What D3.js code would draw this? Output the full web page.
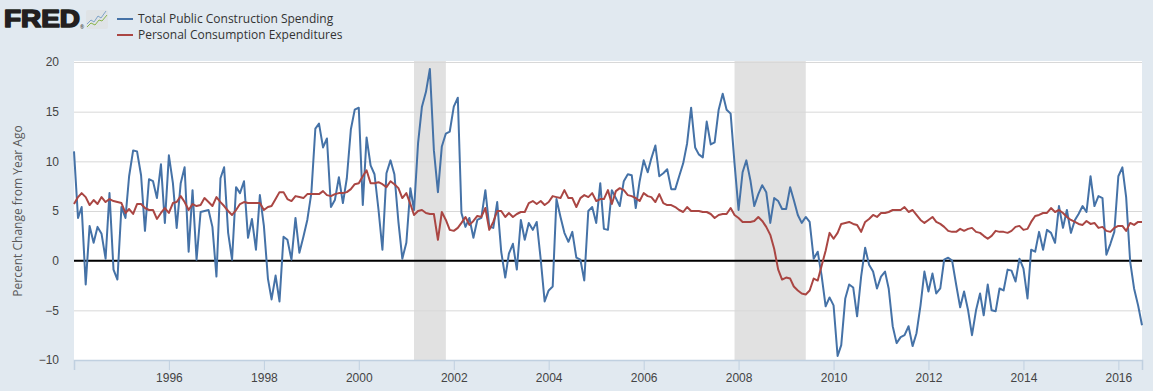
<!DOCTYPE html>
<html>
<head>
<meta charset="utf-8">
<script src="https://cdn.jsdelivr.net/npm/d3@7"></script>
<style>
  body { margin: 0; background: #e1e9f0; }
  svg { display: block; font-family: "Open Sans", sans-serif; }
</style>
</head>
<body>
<div id="chart"></div>
<script>
'use strict';

// Monthly series, Jan 1994 .. Jul 2016 (percent change from year ago)
const startMonth = new Date(1994, 0, 1);

const construction = [
  11.0, 4.3, 5.4, -2.4, 3.5, 1.8, 3.4, 2.7, 0.2, 6.8, -0.9, -1.9,
  5.4, 4.3, 8.5, 11.1, 11.0, 8.6, 3.0, 8.2, 8.0, 6.3, 9.7, 3.8,
  10.6, 7.8, 3.3, 7.8, 9.4, 0.9, 7.1, 0.1, 4.9, 5.0, 5.1, 3.4,
  -1.6, 8.3, 9.4, 2.8, 0.1, 7.4, 6.8, 8.0, 2.3, 4.2, 1.1, 6.6,
  3.5, -1.8, -3.9, -1.5, -4.1, 2.4, 2.1, 0.1, 4.3, 0.8, 2.4, 4.1,
  6.8, 13.3, 13.8, 11.4, 12.3, 5.4, 6.1, 8.4, 5.8, 8.3, 13.2, 15.2,
  15.4, 5.6, 12.4, 9.6, 8.7, 5.1, 1.1, 8.8, 10.1, 8.7, 3.9, 0.2,
  1.8, 7.3, 5.1, 11.8, 15.5, 17.0, 19.3, 11.1, 6.9, 11.5, 12.8, 13.0,
  15.5, 16.4, 4.8, 3.4, 4.3, 2.3, 4.1, 4.3, 7.1, 3.4, 3.3, 5.9,
  0.9, -1.7, 0.7, 1.7, -0.9, 4.1, 2.1, 3.8, 3.1, 3.9, 0.1, -4.1,
  -3.0, -2.6, 6.2, 4.4, 2.8, 1.9, 2.9, 0.3, 0.1, -2.0, 5.0, 5.4,
  3.8, 7.8, 3.2, 3.1, 7.1, 6.3, 5.5, 8.0, 8.7, 8.6, 5.3, 8.0,
  10.1, 8.9, 10.3, 11.6, 8.5, 8.8, 9.2, 7.2, 7.2, 8.5, 9.8, 11.8,
  15.4, 11.4, 10.7, 10.4, 14.0, 11.7, 11.9, 15.2, 16.8, 15.2, 14.8, 9.8,
  5.1, 8.9, 10.1, 8.1, 5.5, 6.7, 7.6, 6.9, 3.8, 6.3, 6.0, 5.2,
  5.2, 7.4, 6.1, 4.6, 3.8, 4.4, 3.9, 0.2, 0.9, -1.5, -4.6, -3.7,
  -4.5, -9.6, -8.5, -3.8, -2.4, -2.7, -5.6, -1.6, 1.3, -0.4, -1.1, -2.8,
  -1.6, -1.1, -2.8, -6.6, -8.3, -7.7, -7.5, -6.6, -8.6, -7.3, -4.5, -1.1,
  -3.1, -1.3, -3.3, -2.8, 0.1, 0.3, 0.0, -2.4, -4.7, -3.1, -5.0, -7.5,
  -5.0, -3.3, -5.5, -2.4, -5.0, -5.1, -2.8, -3.0, -0.9, -1.0, -2.1, 0.2,
  -0.8, -3.8, 1.1, 0.9, 2.9, 1.1, 3.1, 2.8, 1.8, 5.5, 3.3, 5.1,
  2.8, 4.1, 4.7, 5.5, 4.9, 8.5, 5.5, 6.5, 6.3, 0.6, 1.7, 2.9,
  8.5, 9.4, 6.4, -0.1, -2.8, -4.5, -6.5
];

const consumption = [
  5.7, 6.4, 6.8, 6.4, 5.6, 6.1, 5.7, 6.4, 5.9, 6.2, 6.0, 5.9,
  5.8, 4.8, 5.2, 4.7, 5.7, 5.7, 5.3, 5.1, 5.1, 4.2, 4.8, 5.3,
  4.8, 5.8, 5.9, 6.5, 5.9, 5.1, 5.7, 5.5, 5.6, 6.3, 5.9, 5.5,
  6.4, 5.9, 5.5, 5.0, 4.6, 5.1, 5.7, 5.9, 5.8, 5.8, 5.8, 5.8,
  5.1, 5.4, 5.5, 6.2, 6.9, 6.9, 6.2, 6.0, 6.5, 6.4, 6.3, 6.7,
  6.7, 6.7, 6.7, 7.0, 6.6, 6.5, 6.7, 6.8, 6.8, 6.9, 7.2, 7.7,
  7.8, 8.5, 9.1, 7.8, 7.8, 7.9, 7.7, 7.4, 8.0, 7.7, 7.3, 6.3,
  6.8, 5.7, 4.6, 5.0, 5.1, 4.8, 4.7, 4.7, 2.1, 4.9, 4.1, 3.1,
  3.0, 3.3, 3.8, 4.4, 3.6, 4.0, 4.5, 4.4, 5.3, 3.1, 3.9, 5.0,
  5.0, 4.4, 4.8, 4.4, 4.7, 4.9, 4.9, 5.8, 6.0, 5.7, 6.0, 5.6,
  5.9, 6.5, 6.4, 6.3, 7.1, 6.3, 6.3, 5.4, 6.3, 6.6, 6.4, 6.8,
  6.0, 6.2, 6.2, 7.1, 5.7, 7.0, 7.3, 7.1, 6.6, 6.5, 6.3, 6.0,
  6.8, 6.5, 6.4, 5.9, 6.7, 5.8, 5.6, 5.6, 5.4, 5.1, 4.9, 5.4,
  5.0, 5.0, 5.0, 4.9, 4.9, 4.7, 4.3, 4.6, 4.7, 4.7, 5.3, 4.6,
  4.3, 3.9, 3.9, 3.9, 4.0, 4.4, 4.0, 3.4, 2.6, 1.2, -0.9, -1.9,
  -1.7, -1.8, -2.6, -3.0, -3.3, -3.4, -3.0, -1.8, -2.0, -0.5, 1.0, 2.8,
  2.2, 2.8, 3.7, 3.8, 3.9, 3.7, 3.6, 2.9, 3.9, 4.2, 4.6, 4.4,
  4.8, 4.8, 4.9, 5.1, 5.1, 5.1, 5.4, 4.9, 5.1, 4.6, 4.1, 3.8,
  4.1, 4.4, 3.9, 3.7, 3.4, 3.0, 2.9, 2.9, 3.2, 3.0, 3.2, 3.3,
  2.9, 2.8, 2.5, 2.2, 2.5, 3.0, 2.9, 2.9, 2.8, 3.0, 3.4, 3.5,
  3.1, 3.2, 3.9, 4.5, 4.6, 4.8, 4.8, 5.3, 4.9, 5.1, 4.8, 4.4,
  4.1, 3.9, 3.7, 3.6, 4.0, 3.7, 3.8, 3.3, 3.4, 3.0, 2.9, 3.3,
  3.5, 3.5, 3.0, 3.8, 3.6, 3.9, 3.9
];

const seriesNames = ['Total Public Construction Spending', 'Personal Consumption Expenditures'];
const seriesColors = ['#4572a7', '#aa4643'];

// NBER recessions
const recessions = [
  [new Date(2001, 2, 1), new Date(2001, 10, 1)],
  [new Date(2007, 11, 1), new Date(2009, 5, 1)]
];

const yTicks = [-10, -5, 0, 5, 10, 15, 20];
const xTickYears = [1996, 1998, 2000, 2002, 2004, 2006, 2008, 2010, 2012, 2014, 2016];

const width = 1153, height = 391;
const margin = { top: 62, right: 11, bottom: 31, left: 74 };

const monthDate = i => new Date(1994, i, 1);

const svg = d3.select('#chart').append('svg')
  .attr('width', width)
  .attr('height', height);

svg.append('rect')
  .attr('width', width).attr('height', height)
  .attr('fill', '#e1e9f0');

const x = d3.scaleTime()
  .domain([startMonth, new Date(2016, 6, 1)])
  .range([margin.left, width - margin.right]);

const y = d3.scaleLinear()
  .domain([-10, 20])
  .range([height - margin.bottom, margin.top]);

// Plot background
svg.append('rect')
  .attr('x', margin.left).attr('y', margin.top - 1)
  .attr('width', width - margin.left - margin.right)
  .attr('height', height - margin.top - margin.bottom + 1)
  .attr('fill', '#fff');

// Recession bands
svg.append('g').selectAll('rect')
  .data(recessions)
  .join('rect')
  .attr('x', d => x(d[0]))
  .attr('width', d => x(d[1]) - x(d[0]))
  .attr('y', margin.top - 1)
  .attr('height', height - margin.top - margin.bottom + 1)
  .attr('fill', '#e1e1e1');

// Gridlines + y labels
const yAxis = svg.append('g')
  .attr('transform', `translate(${margin.left},0)`)
  .call(d3.axisLeft(y).tickValues(yTicks)
    .tickSize(-(width - margin.left - margin.right))
    .tickFormat(d3.format('d')).tickPadding(15));

yAxis.select('.domain').remove();
yAxis.selectAll('.tick line')
  .attr('stroke', '#d8d8d8')
  .attr('stroke-width', 1)
  .attr('opacity', d => d === -10 ? 0 : 1);
yAxis.selectAll('.tick text')
  .attr('fill', '#444')
  .attr('font-size', 12);

// X axis
const xAxis = svg.append('g')
  .attr('transform', `translate(0,${height - margin.bottom})`)
  .call(d3.axisBottom(x)
    .tickValues(xTickYears.map(yr => new Date(yr, 0, 1)))
    .tickFormat(d3.timeFormat('%Y'))
    .tickSize(10).tickPadding(3));

xAxis.select('.domain')
  .attr('stroke', '#c0d0e0')
  .attr('stroke-width', 1.5);
xAxis.selectAll('.tick line').attr('stroke', '#c0d0e0');
xAxis.selectAll('.tick text')
  .attr('fill', '#444')
  .attr('font-size', 12);

// Zero line
svg.append('line')
  .attr('x1', margin.left).attr('x2', width - margin.right)
  .attr('y1', y(0)).attr('y2', y(0))
  .attr('stroke', '#000').attr('stroke-width', 2);

// Series lines
const line = d3.line()
  .x((d, i) => x(monthDate(i)))
  .y(d => y(d));

[construction, consumption].forEach((vals, k) => {
  svg.append('path')
    .datum(vals)
    .attr('fill', 'none')
    .attr('stroke', seriesColors[k])
    .attr('stroke-width', 2)
    .attr('stroke-linejoin', 'round')
    .attr('d', line);
});

// Y axis title
svg.append('text')
  .attr('transform', `translate(22,${(margin.top + height - margin.bottom) / 2}) rotate(-90)`)
  .attr('text-anchor', 'middle')
  .attr('fill', '#595959')
  .attr('font-size', 12)
  .text('Percent Change from Year Ago');

// FRED logo
const logo = svg.append('g');
logo.append('text')
  .attr('x', 4).attr('y', 27)
  .attr('font-family', 'Liberation Sans, Arial, sans-serif')
  .attr('font-weight', 700)
  .attr('font-size', 24)
  .attr('textLength', 76)
  .attr('lengthAdjust', 'spacingAndGlyphs')
  .attr('fill', '#231f20')
  .attr('stroke', '#231f20')
  .attr('stroke-width', 1.6)
  .attr('stroke-linejoin', 'round')
  .text('FRED');
logo.append('text')
  .attr('x', 80).attr('y', 29)
  .attr('font-size', 5)
  .attr('fill', '#231f20')
  .text('®');
logo.append('rect')
  .attr('x', 86).attr('y', 10).attr('width', 22).attr('height', 19)
  .attr('rx', 2).attr('fill', '#dfe3e6');
logo.append('polyline')
  .attr('points', '87,24 91,20 94,22 98,16 101,18 106,11')
  .attr('fill', 'none').attr('stroke', '#7fa3c8').attr('stroke-width', 1);
logo.append('polyline')
  .attr('points', '87,27 91,23 95,25 99,20 102,21 107,15')
  .attr('fill', 'none').attr('stroke', '#8ab44c').attr('stroke-width', 1);

// Legend
const legend = svg.append('g').selectAll('g')
  .data(seriesNames)
  .join('g')
  .attr('transform', (d, i) => `translate(117,${19 + i * 16})`);

legend.append('line')
  .attr('x1', 0).attr('x2', 16)
  .attr('stroke', (d, i) => seriesColors[i])
  .attr('stroke-width', 2);
legend.append('text')
  .attr('x', 21).attr('dy', '0.35em')
  .attr('font-size', 12)
  .attr('fill', '#333')
  .text(d => d);
</script>
</body>
</html>
